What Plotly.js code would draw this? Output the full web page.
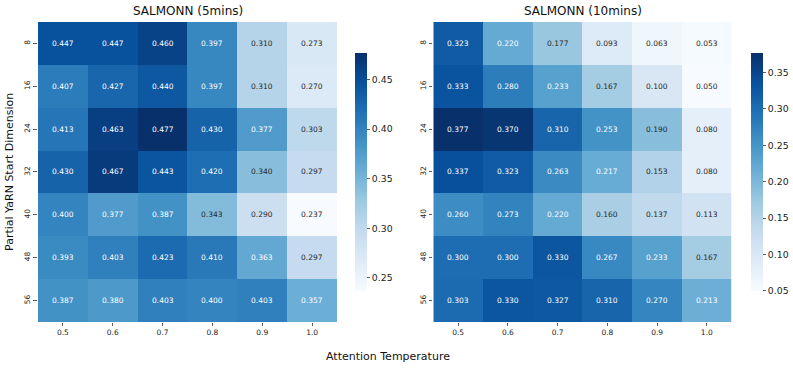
<!DOCTYPE html>
<html>
<head>
<meta charset="utf-8">
<script src="https://cdn.plot.ly/plotly-3.0.1.min.js"></script>
<style>
  body { margin: 0; }
  #chart { width: 793px; height: 369px; }
</style>
</head>
<body>
<div id="chart"></div>
<script>
"use strict";
const temps = ["0.5", "0.6", "0.7", "0.8", "0.9", "1.0"];
const dims = ["8", "16", "24", "32", "40", "48", "56"];

// SALMONN (5mins)
const scores5 = [
  [0.447, 0.447, 0.460, 0.397, 0.310, 0.273],
  [0.407, 0.427, 0.440, 0.397, 0.310, 0.270],
  [0.413, 0.463, 0.477, 0.430, 0.377, 0.303],
  [0.430, 0.467, 0.443, 0.420, 0.340, 0.297],
  [0.400, 0.377, 0.387, 0.343, 0.290, 0.237],
  [0.393, 0.403, 0.423, 0.410, 0.363, 0.297],
  [0.387, 0.380, 0.403, 0.400, 0.403, 0.357],
];
// SALMONN (10mins)
const scores10 = [
  [0.323, 0.220, 0.177, 0.093, 0.063, 0.053],
  [0.333, 0.280, 0.233, 0.167, 0.100, 0.050],
  [0.377, 0.370, 0.310, 0.253, 0.190, 0.080],
  [0.337, 0.323, 0.263, 0.217, 0.153, 0.080],
  [0.260, 0.273, 0.220, 0.160, 0.137, 0.113],
  [0.300, 0.300, 0.330, 0.267, 0.233, 0.167],
  [0.303, 0.330, 0.327, 0.310, 0.270, 0.213],
];

// matplotlib "Blues"
const blues = ["#f7fbff", "#deebf7", "#c6dbef", "#9ecae1", "#6baed6",
               "#4292c6", "#2171b5", "#08519c", "#08306b"];
const colorscale = blues.map((c, i) => [i / (blues.length - 1), c]);

function hexRgb(h) {
  return [1, 3, 5].map(i => parseInt(h.substr(i, 2), 16));
}

// colour at t in [0,1] -> rgb
function sample(t) {
  const n = blues.length - 1;
  const p = Math.min(Math.max(t, 0), 1) * n;
  const i = Math.min(Math.floor(p), n - 1);
  const f = p - i;
  const a = hexRgb(blues[i]), b = hexRgb(blues[i + 1]);
  return a.map((v, k) => v + (b[k] - v) * f);
}

function luminance(rgb) {
  const lin = rgb.map(v => {
    v = v / 255;
    return v <= 0.03928 ? v / 12.92 : Math.pow((v + 0.055) / 1.055, 2.4);
  });
  return 0.2126 * lin[0] + 0.7152 * lin[1] + 0.0722 * lin[2];
}

/**
 * cell labels like seaborn annot=True, fmt=".3f"
 * (category axes: position by index)
 */
function cellLabels(z, xref, yref) {
  const flat = z.flat();
  const lo = Math.min(...flat), hi = Math.max(...flat);
  const out = [];
  z.forEach((row, r) => {
    row.forEach((v, c) => {
      const lum = luminance(sample((v - lo) / (hi - lo)));
      out.push({
        x: c, y: r, xref: xref, yref: yref,
        text: v.toFixed(3), showarrow: false,
        font: {size: 7.5, color: lum > 0.408 ? "#262626" : "#ffffff"},
      });
    });
  });
  return out;
}

const font = "DejaVu Sans, sans-serif";

function heat(z, xa, ya, cbx, dtick) {
  const flat = z.flat();
  return {
    type: "heatmap", x: temps, y: dims, z: z,
    xaxis: xa, yaxis: ya,
    colorscale: colorscale,
    zmin: Math.min(...flat), zmax: Math.max(...flat),
    colorbar: {
      x: cbx, xanchor: "left", y: 0.5343, yanchor: "middle",
      len: 0.6458, lenmode: "fraction", thickness: 12,
      xpad: 0, ypad: 0,
      outlinewidth: 0, ticks: "outside", ticklen: 3.5, tickwidth: 0.8,
      tickcolor: "#333", dtick: dtick, tickformat: ".2f",
      tickfont: {size: 9.3, family: font, color: "#222"},
    },
  };
}

const xaxisBase = {
  type: "category", ticks: "outside", ticklen: 3.5, tickwidth: 0.8,
  tickcolor: "#333", showgrid: false, zeroline: false, showline: false,
  tickfont: {size: 7.5, family: font, color: "#222"},
  range: [-0.5, 5.5],
};
const yaxisBase = {
  type: "category", ticks: "outside", ticklen: 3.5,
  tickwidth: 0.8, tickcolor: "#333", showgrid: false, zeroline: false,
  showline: false, tickangle: -90,
  tickfont: {size: 7.5, family: font, color: "#222"},
  domain: [0.1274, 0.9404],
  range: [6.5, -0.5],
};

function paperText(text, px, py, size, angle) {
  return {
    text: text, x: px / 793, y: 1 - py / 369, xref: "paper", yref: "paper",
    xanchor: "center", yanchor: "middle", showarrow: false,
    textangle: angle || 0, font: {size: size, color: "#111"},
  };
}

const layout = {
  width: 793, height: 369,
  margin: {l: 0, r: 0, t: 0, b: 0},
  paper_bgcolor: "#fff", plot_bgcolor: "#fff",
  font: {family: font},
  showlegend: false,
  xaxis: Object.assign({}, xaxisBase, {domain: [0.0479, 0.425], anchor: "y"}),
  yaxis: Object.assign({}, yaxisBase, {anchor: "x"}),
  xaxis2: Object.assign({}, xaxisBase, {domain: [0.5464, 0.9227], anchor: "y2"}),
  yaxis2: Object.assign({}, yaxisBase, {anchor: "x2"}),
  annotations: [
    paperText("SALMONN (5mins)", 187.5, 11, 12),
    paperText("SALMONN (10mins)", 582.5, 11, 12),
    paperText("Attention Temperature", 388, 356, 11),
    paperText("Partial YaRN Start Dimension", 9, 172, 11, -90),
  ].concat(cellLabels(scores5, "x", "y"), cellLabels(scores10, "x2", "y2")),
};

Plotly.newPlot("chart", [
  heat(scores5, "x", "y", 0.4477, 0.05),
  heat(scores10, "x2", "y2", 0.9467, 0.05),
], layout, {displayModeBar: false, staticPlot: true});
</script>
</body>
</html>
